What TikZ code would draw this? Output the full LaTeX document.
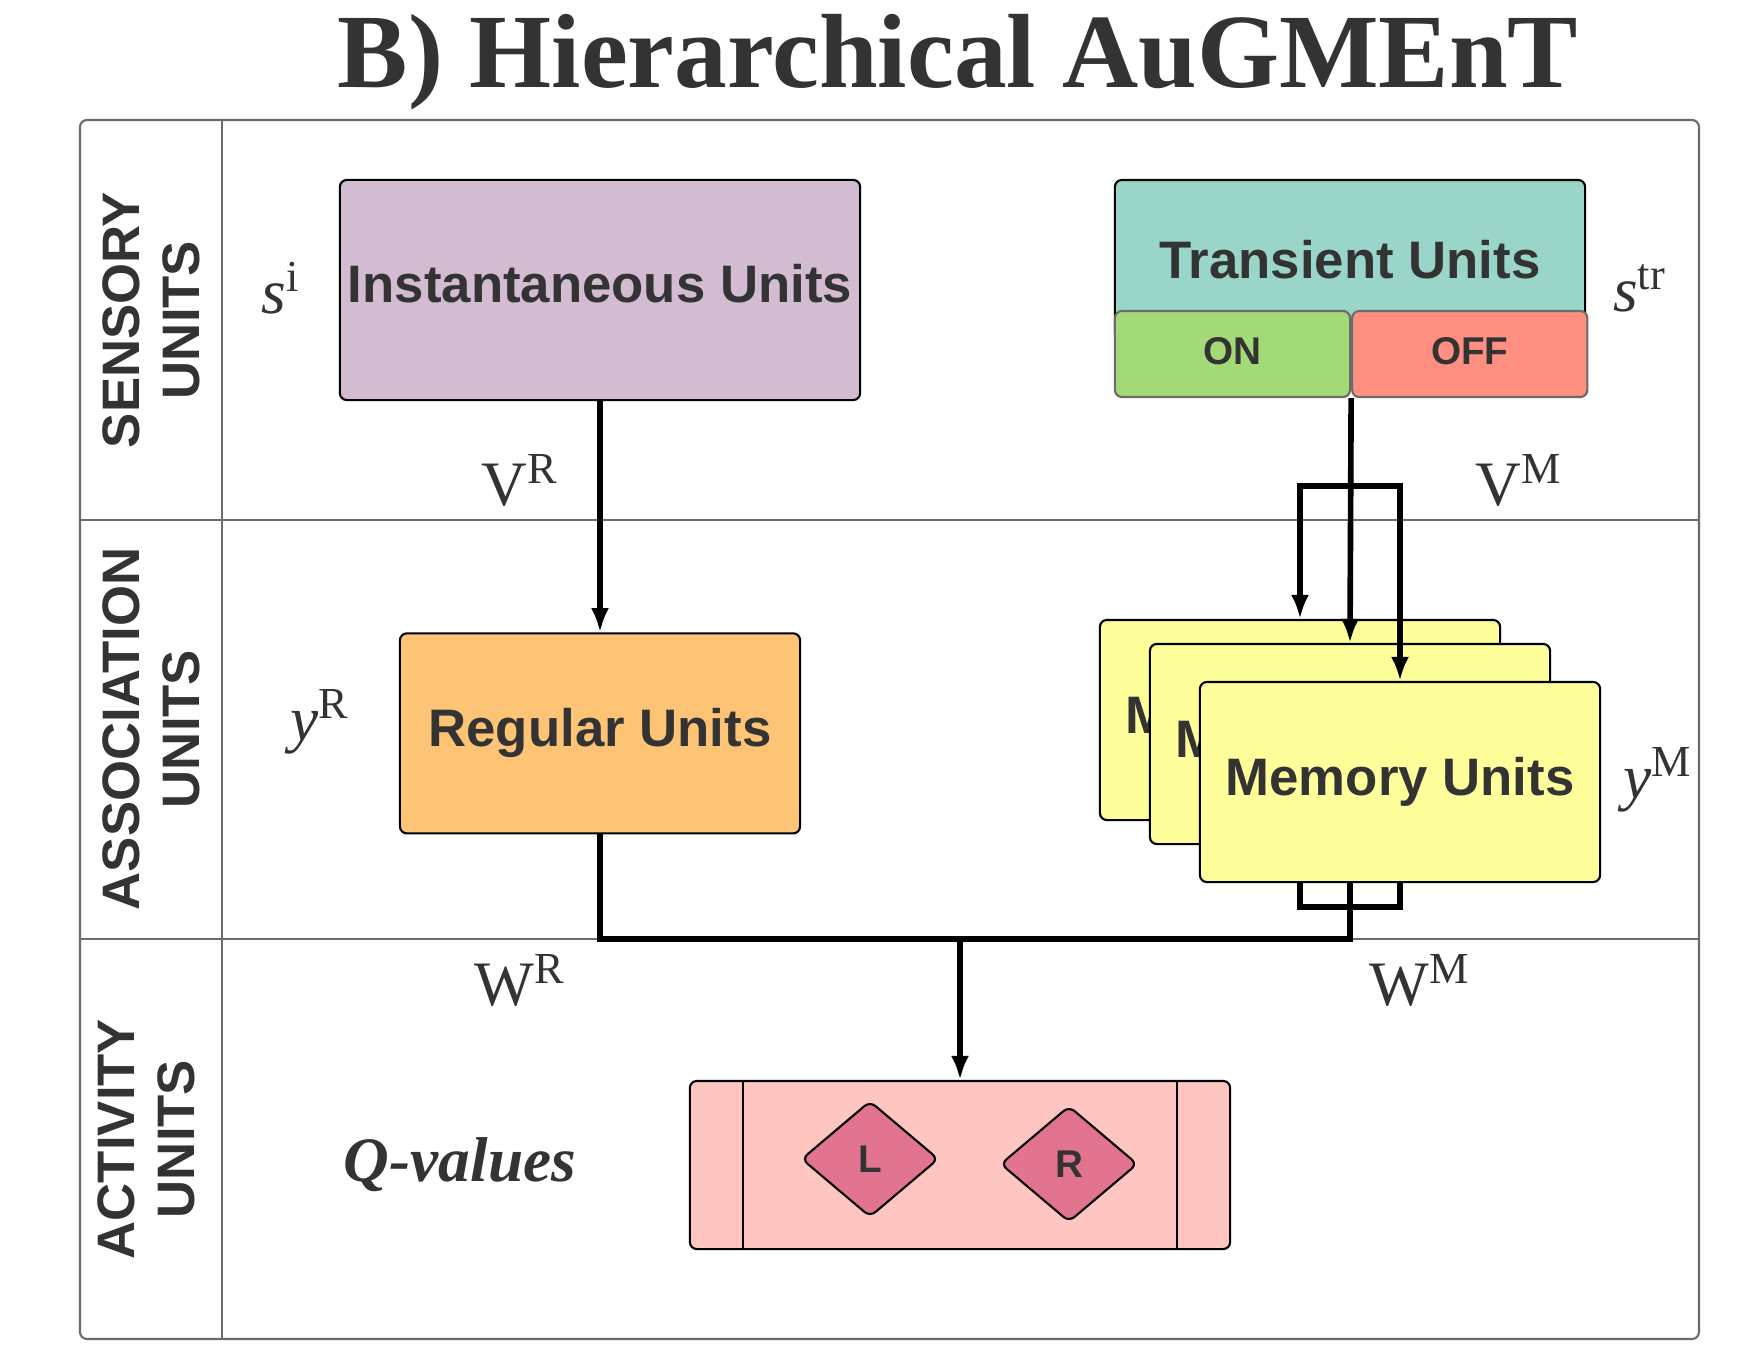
\documentclass[tikz,border=0pt]{standalone}
\usepackage{fontspec}
\setmainfont{Liberation Serif}
\setsansfont{Liberation Sans}
\usepackage{xcolor}
\usetikzlibrary{arrows.meta, positioning, calc, shapes.geometric}

\definecolor{inkgray}{HTML}{333333}
\definecolor{framegray}{HTML}{6B6B6B}
\definecolor{instfill}{HTML}{D3BCD2}
\definecolor{transfill}{HTML}{9AD5CA}
\definecolor{onfill}{HTML}{A4D977}
\definecolor{offfill}{HTML}{FF8F80}
\definecolor{regfill}{HTML}{FDC476}
\definecolor{memfill}{HTML}{FEFE9A}
\definecolor{qfill}{HTML}{FFC6C1}
\definecolor{actfill}{HTML}{E27490}

\begin{document}
\begin{tikzpicture}[
    x=0.01cm, y=-0.01cm,
    unitbox/.style={
        rectangle,
        draw,
        rounded corners=2pt,
        line width=0.6pt,
        inner sep=0pt,
        align=center,
        text=inkgray,
        font=\sffamily\bfseries\fontsize{15}{18}\selectfont
    },
    switchbox/.style={
        unitbox,
        draw=framegray,
        minimum width=2.35cm,
        minimum height=0.86cm,
        font=\sffamily\bfseries\fontsize{11}{13}\selectfont
    },
    membox/.style={
        unitbox,
        fill=memfill,
        minimum width=4.0cm,
        minimum height=2.0cm
    },
    action/.style={
        diamond,
        draw,
        rounded corners=2pt,
        line width=0.6pt,
        fill=actfill,
        inner sep=0pt,
        minimum width=1.37cm,
        minimum height=1.16cm,
        text=inkgray,
        font=\sffamily\bfseries\fontsize{11}{13}\selectfont
    },
    rowlabel/.style={
        rotate=90,
        align=center,
        text=inkgray,
        font=\sffamily\bfseries\fontsize{15}{17}\selectfont
    },
    weightlabel/.style={
        inner sep=0pt,
        text=inkgray,
        font=\fontsize{18}{22}\selectfont
    },
    frame/.style={draw=framegray, line width=0.6pt},
    link/.style={line width=1.6pt},
    arrow/.style={-{Latex[length=2.4mm, width=1.8mm]}, line width=1.6pt}
]

\useasboundingbox (0,0) rectangle (1760,1360);

\node[anchor=base, text=inkgray, font=\bfseries\fontsize{30}{36}\selectfont] (title) at (958,87) {B) Hierarchical AuGMEnT};

% table frame
\draw[frame, rounded corners=2pt] (80,120) rectangle (1699,1339);
\draw[frame] (222,120) -- (222,1339);
\draw[frame] (80,520) -- (1699,520);
\draw[frame] (80,939) -- (1699,939);

\node[rowlabel] (sensoryLbl) at (151,320) {SENSORY\\UNITS};
\node[rowlabel] (assocLbl) at (151,729) {ASSOCIATION\\UNITS};
\node[rowlabel] (activityLbl) at (146,1139) {ACTIVITY\\UNITS};

% sensory units
\node[unitbox, fill=instfill, minimum width=5.2cm, minimum height=2.2cm] (inst) at (600,290) {\raisebox{4pt}{Instantaneous Units}};
\node[unitbox, fill=transfill, minimum width=4.7cm, minimum height=1.6cm] (trans) at (1350,260) {Transient Units};
\node[switchbox, fill=onfill] (on) at (1232.5,354) {\raisebox{1.8pt}{ON}};
\node[switchbox, fill=offfill, right=0cm of on] (off) {\raisebox{1.8pt}{OFF}};

% association units
\node[unitbox, fill=regfill, minimum width=4.0cm, minimum height=2.0cm, below=2.31cm of inst] (reg) {\raisebox{2.4pt}{Regular Units}};

\coordinate (memStack) at (1300,720);
\coordinate (wBus) at (960,939);
\coordinate (wmMerge) at (1350,907);

% output side of the memory stack, hidden behind the boxes
\draw[link] (1300,820) |- (wmMerge);
\draw[link] (1400,882) |- (wmMerge);

\node[membox] (memA) at (memStack) {Memory Units};
\node[membox] (memB) at ($(memStack)+(50,24)$) {Memory Units};
\node[membox] (memC) at ($(memStack)+(100,62)$) {Memory Units};

% activity units
\node[unitbox, fill=qfill, minimum width=5.4cm, minimum height=1.68cm] (qbox) at (960,1165) {};
\draw[line width=0.6pt] ([xshift=0.54cm]qbox.north west) -- ([xshift=0.54cm]qbox.south west);
\draw[line width=0.6pt] ([xshift=-0.54cm]qbox.north east) -- ([xshift=-0.54cm]qbox.south east);
\node[action] (actL) at (870,1159) {L};
\node[action] (actR) at (1069,1164) {R};

% weights and unit labels
\node[weightlabel] (siLbl) at (281,288) {\textit{s}\textsuperscript{i}};
\node[weightlabel] (strLbl) at (1640,288) {\textit{s}\textsuperscript{tr}};
\node[weightlabel] (vrLbl) at (520,480) {V\textsuperscript{R}};
\node[weightlabel] (vmLbl) at (1519,480) {V\textsuperscript{M}};
\node[weightlabel] (yrLbl) at (320,722) {\textit{y}\textsuperscript{R}};
\node[weightlabel] (ymLbl) at (1658,780) {\textit{y}\textsuperscript{M}};
\node[weightlabel] (wrLbl) at (520,980) {W\textsuperscript{R}};
\node[weightlabel] (wmLbl) at (1420,980) {W\textsuperscript{M}};
\node[inner sep=0pt, text=inkgray, font=\bfseries\itshape\fontsize{18}{22}\selectfont] (qLbl) at (460,1165) {Q-values};

% connectors
\coordinate (vmSplit) at (1350,486);

\draw[arrow] (inst.south) -- (reg.north);
\draw[arrow] (on.south east) -- (memB.north);
\draw[arrow] (vmSplit) -| (memA.north);
\draw[arrow] (vmSplit) -| (memC.north);
\draw[link] (memC.south -| wmMerge) -- (wmMerge) |- (wBus);
\draw[link] (reg.south) |- (wBus);
\draw[arrow] (wBus) -- (qbox.north);

\end{tikzpicture}
\end{document}
